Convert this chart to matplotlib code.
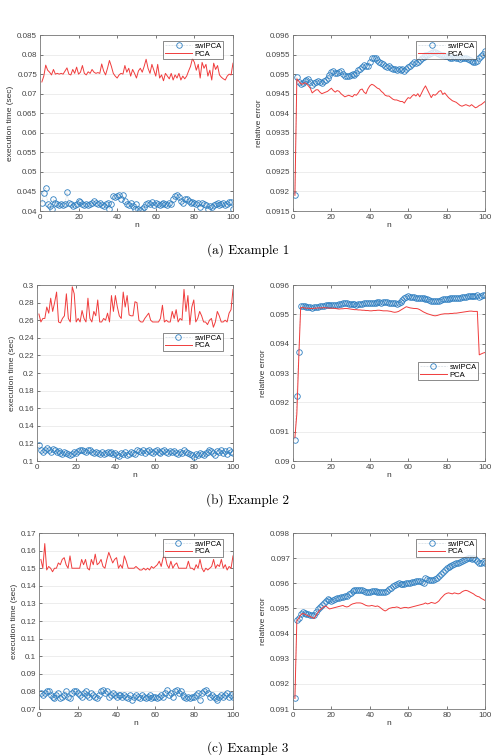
import numpy as np
import matplotlib
matplotlib.use("Agg")
import matplotlib.pyplot as plt
from matplotlib.ticker import FormatStrFormatter, MultipleLocator

n = np.arange(1, 101)

# ---- Example 1 ----
pca_time1 = [0.0730, 0.0745, 0.0773, 0.0760, 0.0755, 0.0748, 0.0762, 0.0750, 0.0752, 0.0750,
             0.0752, 0.0750, 0.0758, 0.0766, 0.0750, 0.0748, 0.0762, 0.0752, 0.0768, 0.0750,
             0.0755, 0.0772, 0.0752, 0.0748, 0.0756, 0.0752, 0.0762, 0.0755, 0.0752, 0.0754,
             0.0752, 0.0776, 0.0758, 0.0748, 0.0765, 0.0785, 0.0770, 0.0752, 0.0745, 0.0740,
             0.0748, 0.0752, 0.0750, 0.0772, 0.0755, 0.0765, 0.0745, 0.0762, 0.0752, 0.0740,
             0.0758, 0.0765, 0.0755, 0.0770, 0.0788, 0.0765, 0.0752, 0.0775, 0.0760, 0.0745,
             0.0775, 0.0740, 0.0748, 0.0733, 0.0752, 0.0745, 0.0738, 0.0752, 0.0735, 0.0748,
             0.0740, 0.0752, 0.0735, 0.0745, 0.0738, 0.0745, 0.0758, 0.0770, 0.0790, 0.0780,
             0.0760, 0.0775, 0.0740, 0.0780, 0.0765, 0.0775, 0.0745, 0.0760, 0.0735, 0.0778,
             0.0762, 0.0772, 0.0748, 0.0742, 0.0738, 0.0735, 0.0745, 0.0750, 0.0748, 0.0778]
sw_time1 = [0.0420, 0.0445, 0.0459, 0.0418, 0.0412, 0.0404, 0.0430, 0.0420, 0.0418, 0.0416,
            0.0418, 0.0415, 0.0418, 0.0448, 0.0420, 0.0418, 0.0414, 0.0416, 0.0418, 0.0425,
            0.0422, 0.0418, 0.0416, 0.0418, 0.0416, 0.0418, 0.0420, 0.0425, 0.0420, 0.0418,
            0.0420, 0.0416, 0.0414, 0.0418, 0.0420, 0.0405, 0.0418, 0.0438, 0.0435, 0.0438,
            0.0440, 0.0432, 0.0440, 0.0425, 0.0418, 0.0415, 0.0420, 0.0412, 0.0405, 0.0418,
            0.0404, 0.0402, 0.0404, 0.0410, 0.0418, 0.0420, 0.0418, 0.0422, 0.0416, 0.0420,
            0.0418, 0.0415, 0.0418, 0.0420, 0.0418, 0.0416, 0.0420, 0.0418, 0.0430, 0.0438,
            0.0440, 0.0436, 0.0425, 0.0420, 0.0432, 0.0430, 0.0425, 0.0420, 0.0422, 0.0420,
            0.0418, 0.0420, 0.0410, 0.0420, 0.0418, 0.0416, 0.0405, 0.0414, 0.0410, 0.0416,
            0.0418, 0.0420, 0.0416, 0.0418, 0.0420, 0.0416, 0.0418, 0.0422, 0.0424, 0.0404]
sw_err1 = [0.09190, 0.09492, 0.09480, 0.09476, 0.09478, 0.09482, 0.09486, 0.09488, 0.09480, 0.09472,
           0.09478, 0.09480, 0.09482, 0.09480, 0.09478, 0.09482, 0.09486, 0.09490, 0.09498, 0.09506,
           0.09508, 0.09504, 0.09502, 0.09506, 0.09508, 0.09500, 0.09496, 0.09494, 0.09494, 0.09498,
           0.09500, 0.09498, 0.09504, 0.09510, 0.09512, 0.09518, 0.09524, 0.09522, 0.09520, 0.09532,
           0.09540, 0.09542, 0.09540, 0.09536, 0.09530, 0.09528, 0.09526, 0.09520, 0.09518, 0.09520,
           0.09516, 0.09514, 0.09512, 0.09510, 0.09512, 0.09510, 0.09514, 0.09508, 0.09514, 0.09518,
           0.09522, 0.09526, 0.09530, 0.09528, 0.09532, 0.09536, 0.09540, 0.09544, 0.09548, 0.09550,
           0.09552, 0.09554, 0.09556, 0.09556, 0.09554, 0.09552, 0.09550, 0.09548, 0.09546, 0.09546,
           0.09544, 0.09542, 0.09542, 0.09544, 0.09542, 0.09540, 0.09538, 0.09540, 0.09542, 0.09540,
           0.09538, 0.09536, 0.09534, 0.09532, 0.09532, 0.09534, 0.09540, 0.09546, 0.09552, 0.09558]
pca_err1 = [0.09190, 0.09488, 0.09482, 0.09476, 0.09474, 0.09478, 0.09476, 0.09470, 0.09464, 0.09452,
            0.09456, 0.09460, 0.09460, 0.09454, 0.09450, 0.09452, 0.09454, 0.09456, 0.09460, 0.09464,
            0.09458, 0.09454, 0.09458, 0.09456, 0.09450, 0.09446, 0.09442, 0.09444, 0.09446, 0.09444,
            0.09442, 0.09448, 0.09446, 0.09452, 0.09460, 0.09462, 0.09454, 0.09450, 0.09462, 0.09470,
            0.09474, 0.09472, 0.09468, 0.09464, 0.09462, 0.09456, 0.09452, 0.09446, 0.09444, 0.09444,
            0.09440, 0.09436, 0.09434, 0.09434, 0.09432, 0.09430, 0.09430, 0.09426, 0.09434, 0.09440,
            0.09438, 0.09444, 0.09448, 0.09444, 0.09450, 0.09442, 0.09452, 0.09462, 0.09470, 0.09460,
            0.09450, 0.09440, 0.09448, 0.09446, 0.09450, 0.09456, 0.09458, 0.09448, 0.09452, 0.09446,
            0.09440, 0.09436, 0.09432, 0.09430, 0.09428, 0.09424, 0.09420, 0.09418, 0.09420, 0.09422,
            0.09420, 0.09418, 0.09422, 0.09418, 0.09414, 0.09416, 0.09420, 0.09422, 0.09426, 0.09430]

# ---- Example 2 ----
pca_time2 = [0.267, 0.258, 0.262, 0.262, 0.275, 0.268, 0.285, 0.270, 0.280, 0.292,
             0.258, 0.257, 0.262, 0.265, 0.290, 0.262, 0.258, 0.298, 0.290, 0.258,
             0.262, 0.258, 0.271, 0.262, 0.258, 0.285, 0.262, 0.258, 0.270, 0.265,
             0.283, 0.258, 0.258, 0.262, 0.260, 0.268, 0.258, 0.288, 0.270, 0.288,
             0.275, 0.265, 0.262, 0.292, 0.275, 0.288, 0.266, 0.265, 0.265, 0.281,
             0.280, 0.260, 0.258, 0.258, 0.262, 0.265, 0.268, 0.260, 0.258, 0.258,
             0.258, 0.258, 0.262, 0.277, 0.258, 0.260, 0.258, 0.258, 0.270, 0.262,
             0.272, 0.258, 0.262, 0.260, 0.295, 0.270, 0.288, 0.255, 0.275, 0.283,
             0.258, 0.262, 0.270, 0.265, 0.258, 0.258, 0.255, 0.260, 0.262, 0.252,
             0.258, 0.270, 0.265, 0.258, 0.258, 0.260, 0.258, 0.268, 0.272, 0.295]
sw_time2 = [0.118, 0.112, 0.110, 0.113, 0.115, 0.112, 0.110, 0.114, 0.113, 0.110,
            0.111, 0.109, 0.108, 0.110, 0.109, 0.108, 0.107, 0.108, 0.110, 0.109,
            0.111, 0.112, 0.113, 0.111, 0.110, 0.112, 0.113, 0.110, 0.109, 0.110,
            0.109, 0.108, 0.110, 0.108, 0.109, 0.110, 0.109, 0.110, 0.108, 0.109,
            0.107, 0.106, 0.109, 0.108, 0.110, 0.107, 0.108, 0.110, 0.109, 0.108,
            0.112, 0.111, 0.110, 0.112, 0.109, 0.111, 0.112, 0.110, 0.109, 0.111,
            0.112, 0.110, 0.109, 0.111, 0.112, 0.110, 0.109, 0.111, 0.110, 0.111,
            0.109, 0.108, 0.110, 0.109, 0.112, 0.110, 0.109, 0.108, 0.107, 0.105,
            0.108, 0.107, 0.109, 0.108, 0.107, 0.109, 0.110, 0.112, 0.111, 0.109,
            0.107, 0.111, 0.110, 0.112, 0.109, 0.111, 0.108, 0.112, 0.110, 0.109]
sw_err2 = [0.09070, 0.09222, 0.09373, 0.09527, 0.09528, 0.09527, 0.09526, 0.09525, 0.09524, 0.09523,
           0.09524, 0.09525, 0.09526, 0.09527, 0.09528, 0.09530, 0.09531, 0.09532, 0.09533, 0.09533,
           0.09532, 0.09531, 0.09532, 0.09534, 0.09536, 0.09537, 0.09538, 0.09537, 0.09536, 0.09536,
           0.09535, 0.09534, 0.09533, 0.09534, 0.09535, 0.09536, 0.09537, 0.09538, 0.09537, 0.09538,
           0.09539, 0.09540, 0.09540, 0.09541, 0.09541, 0.09540, 0.09541, 0.09542, 0.09541, 0.09540,
           0.09539, 0.09538, 0.09537, 0.09536, 0.09538, 0.09542, 0.09548, 0.09555, 0.09560, 0.09561,
           0.09560, 0.09559, 0.09558, 0.09557, 0.09557, 0.09556, 0.09556, 0.09555, 0.09553, 0.09551,
           0.09549, 0.09547, 0.09545, 0.09544, 0.09545, 0.09547, 0.09549, 0.09551, 0.09552, 0.09553,
           0.09554, 0.09555, 0.09556, 0.09557, 0.09557, 0.09556, 0.09557, 0.09558, 0.09559, 0.09560,
           0.09561, 0.09562, 0.09563, 0.09563, 0.09564, 0.09565, 0.09560, 0.09564, 0.09566, 0.09567]
pca_err2 = [0.09080, 0.09160, 0.09350, 0.09523, 0.09523, 0.09522, 0.09521, 0.09521, 0.09520, 0.09520,
            0.09521, 0.09521, 0.09522, 0.09522, 0.09522, 0.09523, 0.09522, 0.09522, 0.09521, 0.09521,
            0.09521, 0.09520, 0.09519, 0.09518, 0.09519, 0.09519, 0.09520, 0.09520, 0.09519, 0.09518,
            0.09517, 0.09516, 0.09516, 0.09515, 0.09515, 0.09514, 0.09514, 0.09513, 0.09513, 0.09512,
            0.09512, 0.09513, 0.09513, 0.09514, 0.09514, 0.09513, 0.09512, 0.09512, 0.09512, 0.09511,
            0.09510, 0.09508, 0.09507, 0.09508, 0.09510, 0.09514, 0.09518, 0.09522, 0.09526, 0.09524,
            0.09522, 0.09521, 0.09520, 0.09520, 0.09519, 0.09516, 0.09512, 0.09508, 0.09505, 0.09502,
            0.09500, 0.09498, 0.09496, 0.09495, 0.09496, 0.09498, 0.09500, 0.09501, 0.09502, 0.09502,
            0.09502, 0.09503, 0.09503, 0.09504, 0.09504, 0.09505, 0.09506, 0.09507, 0.09508, 0.09509,
            0.09510, 0.09511, 0.09511, 0.09510, 0.09510, 0.09510, 0.09362, 0.09365, 0.09368, 0.09370]

# ---- Example 3 ----
pca_time3 = [0.155, 0.150, 0.164, 0.149, 0.151, 0.150, 0.148, 0.150, 0.150, 0.153,
             0.152, 0.155, 0.156, 0.152, 0.150, 0.157, 0.150, 0.150, 0.150, 0.150,
             0.150, 0.155, 0.152, 0.155, 0.150, 0.149, 0.155, 0.152, 0.158, 0.152,
             0.153, 0.155, 0.151, 0.150, 0.155, 0.159, 0.156, 0.153, 0.155, 0.156,
             0.150, 0.152, 0.150, 0.157, 0.154, 0.150, 0.150, 0.150, 0.150, 0.151,
             0.150, 0.149, 0.149, 0.150, 0.149, 0.150, 0.149, 0.151, 0.150, 0.151,
             0.152, 0.154, 0.151, 0.156, 0.157, 0.152, 0.150, 0.154, 0.150, 0.152,
             0.153, 0.150, 0.150, 0.150, 0.150, 0.150, 0.154, 0.150, 0.150, 0.149,
             0.152, 0.150, 0.155, 0.150, 0.148, 0.150, 0.149, 0.150, 0.151, 0.155,
             0.150, 0.152, 0.151, 0.155, 0.150, 0.152, 0.149, 0.151, 0.150, 0.157]
sw_time3 = [0.079, 0.078, 0.079, 0.080, 0.080, 0.078, 0.077, 0.076, 0.078, 0.079,
            0.076, 0.077, 0.078, 0.080, 0.077, 0.076, 0.079, 0.080, 0.080, 0.079,
            0.078, 0.077, 0.079, 0.080, 0.078, 0.077, 0.079, 0.078, 0.077, 0.076,
            0.078, 0.080, 0.081, 0.079, 0.080, 0.077, 0.078, 0.079, 0.078, 0.077,
            0.078, 0.078, 0.077, 0.078, 0.077, 0.076, 0.078, 0.075, 0.077, 0.078,
            0.077, 0.076, 0.078, 0.077, 0.076, 0.077, 0.078, 0.076, 0.077, 0.077,
            0.076, 0.077, 0.078, 0.077, 0.079, 0.081, 0.078, 0.079, 0.077, 0.080,
            0.081, 0.079, 0.080, 0.078, 0.077, 0.076, 0.077, 0.076, 0.077, 0.077,
            0.078, 0.079, 0.075, 0.079, 0.080, 0.081, 0.079, 0.077, 0.078, 0.077,
            0.076, 0.075, 0.077, 0.078, 0.077, 0.078, 0.079, 0.077, 0.078, 0.077]
sw_err3 = [0.09142, 0.09455, 0.09462, 0.09478, 0.09484, 0.09482, 0.09478, 0.09476, 0.09474, 0.09474,
           0.09472, 0.09486, 0.09496, 0.09506, 0.09512, 0.09520, 0.09530, 0.09536, 0.09532, 0.09530,
           0.09534, 0.09536, 0.09540, 0.09542, 0.09544, 0.09546, 0.09548, 0.09550, 0.09556, 0.09562,
           0.09568, 0.09572, 0.09574, 0.09574, 0.09574, 0.09572, 0.09568, 0.09566, 0.09565, 0.09566,
           0.09568, 0.09570, 0.09568, 0.09566, 0.09564, 0.09565, 0.09566, 0.09566, 0.09570, 0.09576,
           0.09582, 0.09588, 0.09592, 0.09596, 0.09600, 0.09598, 0.09596, 0.09598, 0.09600, 0.09600,
           0.09602, 0.09604, 0.09606, 0.09608, 0.09608, 0.09610, 0.09606, 0.09602, 0.09620, 0.09618,
           0.09614, 0.09612, 0.09614, 0.09618, 0.09622, 0.09628, 0.09636, 0.09644, 0.09652, 0.09660,
           0.09664, 0.09668, 0.09674, 0.09678, 0.09680, 0.09682, 0.09686, 0.09690, 0.09694, 0.09698,
           0.09700, 0.09700, 0.09698, 0.09700, 0.09698, 0.09690, 0.09682, 0.09680, 0.09684, 0.09680]
pca_err3 = [0.09142, 0.09452, 0.09460, 0.09474, 0.09480, 0.09478, 0.09474, 0.09470, 0.09468, 0.09464,
            0.09460, 0.09472, 0.09484, 0.09494, 0.09500, 0.09506, 0.09510, 0.09504, 0.09498, 0.09500,
            0.09502, 0.09504, 0.09506, 0.09508, 0.09510, 0.09512, 0.09508, 0.09506, 0.09508, 0.09514,
            0.09518, 0.09520, 0.09522, 0.09522, 0.09522, 0.09520, 0.09516, 0.09512, 0.09510, 0.09510,
            0.09512, 0.09510, 0.09508, 0.09510, 0.09506, 0.09500, 0.09494, 0.09490, 0.09494, 0.09500,
            0.09502, 0.09504, 0.09504, 0.09506, 0.09504, 0.09500, 0.09502, 0.09504, 0.09504, 0.09502,
            0.09504, 0.09506, 0.09508, 0.09510, 0.09512, 0.09514, 0.09516, 0.09518, 0.09522, 0.09518,
            0.09520, 0.09524, 0.09522, 0.09520, 0.09524, 0.09530, 0.09540, 0.09548, 0.09556, 0.09560,
            0.09562, 0.09560, 0.09558, 0.09562, 0.09560, 0.09558, 0.09560, 0.09566, 0.09570, 0.09572,
            0.09570, 0.09566, 0.09562, 0.09558, 0.09552, 0.09548, 0.09546, 0.09540, 0.09536, 0.09532]

captions = ["(a) Example 1", "(b) Example 2", "(c) Example 3"]

plt.rcParams['font.family'] = ['Liberation Sans', 'DejaVu Sans']

fig = plt.figure(figsize=(4.93, 7.55), dpi=100)

BLUE = '#2f7fc1'
RED = '#f03c3c'


def style(ax, ylim, ystep, ylabel, legend_anchor):
    ax.set_xlim(0, 100)
    ax.set_ylim(*ylim)
    ax.xaxis.set_major_locator(MultipleLocator(20))
    ax.yaxis.set_major_locator(MultipleLocator(ystep))
    ax.yaxis.set_major_formatter(FormatStrFormatter('%g'))
    ax.tick_params(direction='in', length=2.5, width=0.5, labelsize=5.8,
                   colors='#444444', top=True, right=True, pad=2)
    ax.grid(axis='y', color='#e6e6e6', linewidth=0.5)
    ax.set_axisbelow(True)
    for s in ax.spines.values():
        s.set_color('#777777')
        s.set_linewidth(0.6)
    ax.set_xlabel('n', fontsize=6, color='#333333', labelpad=1)
    ax.set_ylabel(ylabel, fontsize=6, color='#333333', labelpad=2)
    leg = ax.legend(loc='upper right', bbox_to_anchor=legend_anchor, fontsize=5.5,
                    frameon=True, fancybox=False, handlelength=3.6, borderpad=0.2,
                    labelspacing=0.05, handletextpad=0.3, borderaxespad=0)
    leg.get_frame().set_edgecolor('#333333')
    leg.get_frame().set_linewidth(0.5)


def draw(ax, sw, pca):
    ax.plot(n, sw, linestyle='--', color='#c9d3dc', linewidth=0.4,
            marker='o', markersize=4.0, markerfacecolor='none',
            markeredgecolor=BLUE, markeredgewidth=0.6, label='swIPCA')
    ax.plot(n, pca, color=RED, linewidth=0.7, label='PCA')


left_x = [0.081, 0.075, 0.079]
right_x = 0.5943
bottoms = [0.7205, 0.3894, 0.0609]
h = 0.2331

time_sets = [(sw_time1, pca_time1, (0.04, 0.085), 0.005, (0.95, 0.965)),
             (sw_time2, pca_time2, (0.1, 0.3), 0.02, (0.95, 0.728)),
             (sw_time3, pca_time3, (0.07, 0.17), 0.01, (0.95, 0.967))]
err_sets = [(sw_err1, pca_err1, (0.0915, 0.096), 0.0005, (0.955, 0.965)),
            (sw_err2, pca_err2, (0.09, 0.096), 0.001, (0.965, 0.563)),
            (sw_err3, pca_err3, (0.091, 0.098), 0.001, (0.955, 0.967))]

for i in range(3):
    sw, pca, yl, st, anc = time_sets[i]
    ax = fig.add_axes([left_x[i], bottoms[i], 0.4726 - left_x[i], h])
    draw(ax, sw, pca)
    style(ax, yl, st, 'execution time (sec)', anc)

    sw, pca, yl, st, anc = err_sets[i]
    ax = fig.add_axes([right_x, bottoms[i], 0.3895, h])
    draw(ax, sw, pca)
    style(ax, yl, st, 'relative error', anc)

cap_y = [1 - 250 / 755, 1 - 500 / 755, 1 - 748 / 755]
for i in range(3):
    fig.text(0.503, cap_y[i], captions[i], ha='center', va='center',
             fontsize=9.5, family=['cmr10', 'DejaVu Serif'])

fig.savefig('out.png', dpi=100)
